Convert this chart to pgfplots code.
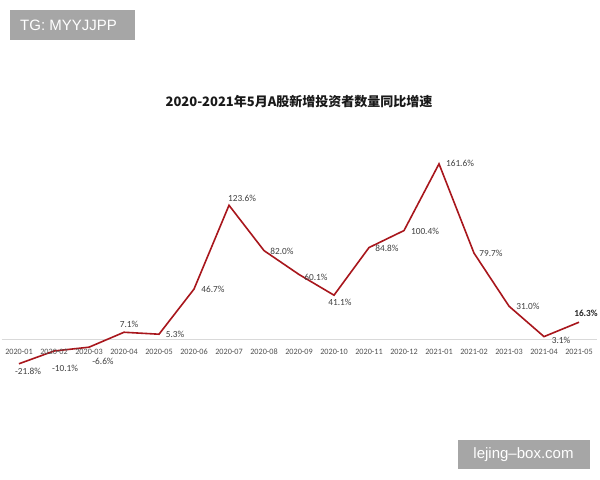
\documentclass[border=0pt]{standalone}
\usepackage{pgfplots}
\pgfplotsset{compat=1.18}
\usepackage{pgfplotstable}
\usepackage{fontspec}
\setmainfont{Carlito}
\newfontfamily\cjk{Noto Sans CJK SC}
\newfontfamily\wm{Liberation Sans}
\definecolor{linered}{RGB}{168,22,28}
\definecolor{lblgray}{RGB}{64,64,64}
\definecolor{tickgray}{RGB}{80,80,80}
\definecolor{zerogray}{RGB}{217,217,217}
\definecolor{wmgray}{RGB}{166,166,166}

\pgfplotstableread{
x y dx dy bf
0 -21.8 9 -8 0
1 -10.1 11 -17 0
2 -6.6 14 -14 0
3 7.1 5 8 0
4 5.3 16 0 0
5 46.7 19 0 0
6 123.6 13 7 0
7 82.0 18 -1 0
8 60.1 17 -3 0
9 41.1 6 -7 0
10 84.8 18 -1 0
11 100.4 21 -1 0
12 161.6 21 0 0
13 79.7 17 0 0
14 31.0 19 0 0
15 3.1 17 -4 0
16 16.3 7 9 1
}\growth

\begin{document}
\begin{tikzpicture}[x=1bp,y=1bp]
\path[use as bounding box,fill=white] (0,0) rectangle (600,480);
\begin{axis}[
  at={(1.5bp,107.3bp)}, anchor=south west,
  scale only axis, width=595bp, height=228.9bp,
  xmin=-0.5, xmax=16.5, ymin=-30, ymax=180,
  axis y line=none,
  axis x line=none,
  clip=false,
  xtick=data,
]
\draw[zerogray, line width=1bp] (axis cs:-0.5,0) -- (axis cs:16.5,0);
\addplot[linered, line width=1.6bp, mark=none,
  nodes near coords={\ifdim\lbf pt>0.5pt \bfseries\color{black!85}\fi\pgfmathprintnumber[fixed,fixed zerofill,precision=1,assume math mode=true]{\pgfplotspointmeta}\%},
  point meta=explicit,
  visualization depends on={\thisrow{dx} \as \ldx},
  visualization depends on={\thisrow{dy} \as \ldy},
  visualization depends on={\thisrow{bf} \as \lbf},
  nodes near coords style={font=\fontsize{9.3bp}{10bp}\selectfont, text=lblgray, anchor=center, inner sep=0pt, xshift=\ldx bp, yshift=\ldy bp},
] table[x=x, y=y, meta=y] {\growth};
\foreach \i/\lab in {0/2020-01,1/2020-02,2/2020-03,3/2020-04,4/2020-05,5/2020-06,6/2020-07,7/2020-08,8/2020-09,9/2020-10,10/2020-11,11/2020-12,12/2021-01,13/2021-02,14/2021-03,15/2021-04,16/2021-05}{
  \edef\tmp{\noexpand\node[font=\noexpand\fontsize{8.2bp}{9bp}\noexpand\selectfont, text=tickgray, inner sep=0pt, anchor=center] at ([yshift=-12bp]axis cs:\i,0) {\lab};}
  \tmp
}
\end{axis}
\node[font=\cjk\bfseries\fontsize{13bp}{15bp}\selectfont, text=black!90, anchor=center] at (299,378) {2020-2021年5月A股新增投资者数量同比增速};
\fill[wmgray] (10,440) rectangle (135,470);
\node[font=\wm\fontsize{15bp}{17bp}\selectfont, text=white, anchor=west, inner sep=0pt] at (20,455) {TG: MYYJJPP};
\fill[wmgray] (458,11) rectangle (590,40);
\node[font=\wm\fontsize{15bp}{17bp}\selectfont, text=white, anchor=center, inner sep=0pt] at (523.5,25.5) {lejing–box.com};
\end{tikzpicture}
\end{document}
